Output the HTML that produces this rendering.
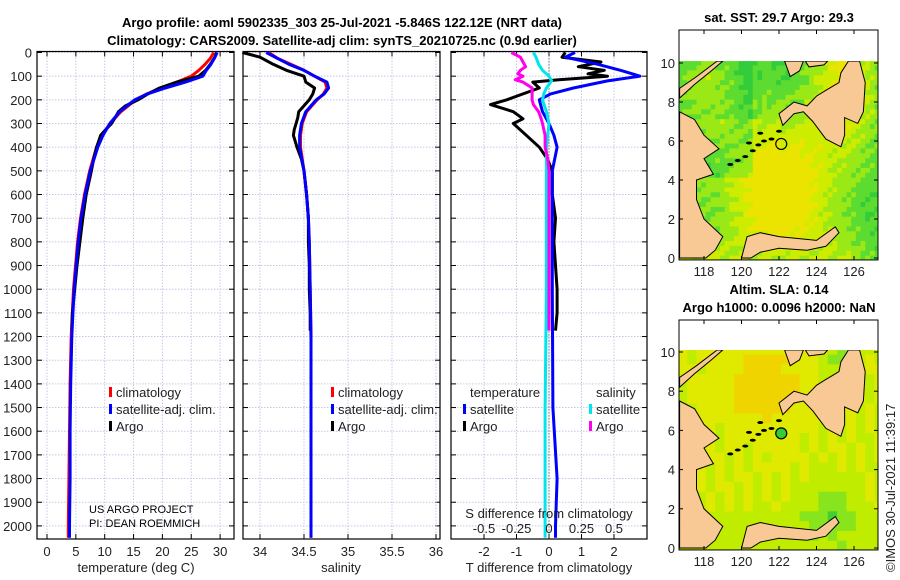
<!DOCTYPE html>
<html><head><meta charset="utf-8">
<style>
body{margin:0;background:#fff;}
svg{display:block;font-family:"Liberation Sans","DejaVu Sans",sans-serif;}
.tk{font-size:13px;fill:#222;}
.tt{font-size:13px;font-weight:bold;fill:#000;}
</style></head>
<body>
<svg id="fig" width="900" height="580" viewBox="0 0 900 580">
<text class="tt" x="342" y="27" text-anchor="middle">Argo profile: aoml 5902335_303 25-Jul-2021 -5.846S 122.12E (NRT data)</text>
<text class="tt" x="342" y="45" text-anchor="middle">Climatology: CARS2009. Satellite-adj clim: synTS_20210725.nc (0.9d earlier)</text>
<g id="g1"></g>
<g id="g2"></g>
<g id="g3"></g>
<g id="m1"></g>
<g id="m2"></g>
<text class="tt" x="779" y="22" text-anchor="middle">sat. SST: 29.7 Argo: 29.3</text>
<text class="tt" x="779" y="294" text-anchor="middle">Altim. SLA: 0.14</text>
<text class="tt" x="779" y="312" text-anchor="middle">Argo h1000: 0.0096 h2000: NaN</text>
<text class="tk" x="0" y="0" transform="translate(895,572) rotate(-90)">©IMOS 30-Jul-2021 11:39:17</text>
</svg>
<script>
const NS="http://www.w3.org/2000/svg";
// ---- data ----
const depthTicks=[0,100,200,300,400,500,600,700,800,900,1000,1100,1200,1300,1400,1500,1600,1700,1800,1900,2000];
const tTicks=[0,5,10,15,20,25,30];
const sTicks=[34,34.5,35,35.5,36];
const dTTicks=[-2,-1,0,1,2];
const dSTicks=[-0.5,-0.25,0,0.25,0.5];
const dSLabels=["-0.5","-0.25","0","0.25","0.5"];
const depthArgo=[0,20,50,75,100,125,150,175,200,225,250,275,300,325,350,400,450,500,600,700,800,900,1000,1100,1175];
const tempArgo=[29.4,29.1,28.3,27.5,26.3,22.5,19.5,17.5,15.8,13.6,12.4,11.8,11.2,10.2,9.3,8.6,8.1,7.7,6.8,6.2,5.7,5.2,4.8,4.4,4.3];
const salArgo=[33.8,34.0,34.15,34.3,34.5,34.52,34.62,34.6,34.56,34.5,34.44,34.43,34.41,34.39,34.38,34.42,34.47,34.5,34.53,34.55,34.55,34.56,34.56,34.57,34.57];
const depthClim=[0,25,50,75,100,125,150,175,200,250,300,350,400,500,600,700,800,1000,1200,1400,1600,1800,2000,2050];
const tempClim=[28.9,28.3,27.4,26.3,25.0,22.5,19.8,17.3,15.4,12.8,10.9,9.6,8.6,7.4,6.5,5.8,5.3,4.6,4.2,4.0,3.9,3.8,3.7,3.7];
const salClim=[34.1,34.2,34.35,34.5,34.62,34.74,34.76,34.72,34.65,34.53,34.48,34.46,34.46,34.5,34.53,34.55,34.56,34.57,34.58,34.58,34.58,34.58,34.58,34.58];
const tempSat=[29.5,29.0,28.4,27.6,27.0,24.0,20.5,17.4,15.2,12.6,10.9,9.7,8.8,7.5,6.6,5.9,5.4,4.7,4.3,4.1,4.0,4.0,3.9,3.9];
const salSat=[34.07,34.2,34.33,34.5,34.62,34.76,34.78,34.73,34.64,34.52,34.47,34.45,34.45,34.5,34.53,34.55,34.56,34.57,34.58,34.58,34.58,34.58,34.58,34.58];
const depthDiff=[0,20,40,60,75,90,100,115,125,150,175,200,220,250,280,300,350,400,450,500,600,700,800,900,1000,1100,1175];
const dTArgo=[0.5,0.4,1.6,0.9,1.7,1.2,1.8,0.3,-0.5,-0.3,-0.8,-1.3,-1.8,-1.1,-0.8,-1.1,-0.7,-0.3,-0.05,0.1,0.1,0.2,0.15,0.2,0.25,0.25,0.2];
const dSArgo=[-0.29,-0.22,-0.2,-0.18,-0.22,-0.24,-0.2,-0.26,-0.2,-0.13,-0.13,-0.13,-0.12,-0.08,-0.06,-0.05,-0.03,-0.03,-0.01,0,0,0,0,0,0,0,0];
const depthDiffSat=[0,20,50,75,100,120,150,175,200,250,300,350,400,500,600,1000,1500,1800,2000,2050];
const dTSat=[0.8,0.5,1.5,2.2,2.8,1.8,0.75,0.05,-0.3,-0.2,0,0.15,0.25,0.1,0.1,0.1,0.12,0.25,0.2,0.2];
const dSSat=[-0.12,-0.1,-0.08,-0.05,0,0.02,-0.02,-0.04,-0.05,-0.02,0,-0.01,-0.02,-0.02,-0.02,-0.02,-0.03,-0.03,-0.03,-0.03];

// ---- axes ----
const Y0=52.5,PPM=0.2367,YB=539;
const yD=d=>Y0+d*PPM;
const xT=v=>47+v*5.77;
const xS=v=>304+(v-34.5)*88;
const xDT=v=>549+v*32.5;
const xDS=v=>549+v*130;

function el(tag,attrs,parent){const e=document.createElementNS(NS,tag);for(const k in attrs)e.setAttribute(k,attrs[k]);parent.appendChild(e);return e;}
function txt(s,attrs,parent){const e=el('text',attrs,parent);e.textContent=s;return e;}

function panel(g,x0,x1,ticks,xf,labels){
  depthTicks.forEach(d=>{const y=yD(d);
    const l=el('line',{x1:x0,x2:x1,y1:y,y2:y,stroke:'#c3c8e6','stroke-dasharray':'1.5,1.5','stroke-width':1},g);
    
    
    el('line',{x1:x0,x2:x0+5,y1:y,y2:y,stroke:'#000'},g);
    el('line',{x1:x1-5,x2:x1,y1:y,y2:y,stroke:'#000'},g);
  });
  ticks.forEach((t,i)=>{const x=xf(t);
    const l=el('line',{x1:x,x2:x,y1:Y0-1,y2:YB,stroke:'#c3c8e6','stroke-dasharray':'1.5,1.5'},g);
    
    
    el('line',{x1:x,x2:x,y1:YB,y2:YB-5,stroke:'#000'},g);
    el('line',{x1:x,x2:x,y1:Y0-1,y2:Y0+4,stroke:'#000'},g);
    const tx=txt(labels?labels[i]:String(t),{x:x,y:556,'text-anchor':'middle',class:'tk'},g);
    
    
  });
  const r=el('rect',{x:x0,y:Y0-1,width:x1-x0,height:YB-Y0+1,fill:'none',stroke:'#000','stroke-width':1.2},g);
  
  
}
function line(g,vals,depths,xf,color,name,w){
  const p=vals.map((v,i)=>(i?'L':'M')+xf(v).toFixed(1)+','+yD(depths[i]).toFixed(1)).join(' ');
  const e=el('path',{d:p,fill:'none',stroke:color,'stroke-width':w||3,'stroke-linejoin':'round'},g);
  
  
}
function legend(g,x,y,color,label){
  const m=el('rect',{x:x,y:y-9,width:3,height:10,fill:color},g);
  
  
  const t=txt(label,{x:x+7,y:y+1,class:'tk'},g);
  
  
}
const g1=document.getElementById('g1'),g2=document.getElementById('g2'),g3=document.getElementById('g3');
panel(g1,37,234,tTicks,xT);
depthTicks.forEach(d=>{const t=txt(String(d),{x:32,y:yD(d)+5,'text-anchor':'end',class:'tk'},g1);
  
  });
line(g1,tempClim,depthClim,xT,'#ff0000','temp-climatology-line');
line(g1,tempArgo,depthArgo,xT,'#000000','temp-argo-line');
line(g1,tempSat,depthClim,xT,'#0000ff','temp-satellite-line');
legend(g1,109,396,'#ff0000','climatology');
legend(g1,109,413,'#0000ff','satellite-adj. clim.');
legend(g1,109,430,'#000000','Argo');
txt('US ARGO PROJECT',{x:89,y:513,style:'font-size:11px'},g1);
txt('PI: DEAN ROEMMICH',{x:89,y:527,style:'font-size:11px'},g1);
txt('temperature (deg C)',{x:136,y:572,'text-anchor':'middle',class:'tk'},g1);

panel(g2,243,440,sTicks,xS);
line(g2,salClim,depthClim,xS,'#ff0000','sal-climatology-line');
line(g2,salArgo,depthArgo,xS,'#000000','sal-argo-line');
line(g2,salSat,depthClim,xS,'#0000ff','sal-satellite-line');
legend(g2,331,396,'#ff0000','climatology');
legend(g2,331,413,'#0000ff','satellite-adj. clim.');
legend(g2,331,430,'#000000','Argo');
txt('salinity',{x:341,y:572,'text-anchor':'middle',class:'tk'},g2);

panel(g3,451,647,dTTicks,xDT);
el('line',{x1:549,x2:549,y1:Y0,y2:YB,stroke:'#333','stroke-dasharray':'1,2'},g3);
line(g3,dTArgo,depthDiff,xDT,'#000000','tdiff-argo-line');
line(g3,dTSat,depthDiffSat,xDT,'#0000ff','tdiff-satellite-line');
line(g3,dSSat,depthDiffSat,xDS,'#00e5ee','sdiff-satellite-line');
line(g3,dSArgo,depthDiff,xDS,'#ff00ee','sdiff-argo-line');
txt('temperature',{x:470,y:397,class:'tk'},g3);
txt('salinity',{x:596,y:397,class:'tk'},g3);
legend(g3,463,413,'#0000ff','satellite');
legend(g3,463,430,'#000000','Argo');
legend(g3,589,413,'#00e5ee','satellite');
legend(g3,589,430,'#ff00ee','Argo');
txt('S difference from climatology',{x:549,y:518,'text-anchor':'middle',class:'tk'},g3);
dSTicks.forEach((s,i)=>{const t=txt(dSLabels[i],{x:xDS(s),y:533,'text-anchor':'middle',class:'tk'},g3);
  
  });
txt('T difference from climatology',{x:549,y:572,'text-anchor':'middle',class:'tk'},g3);

// ---- maps ----
const land1=[[116.7,7.5],[117.5,7.1],[118,6.3],[118.8,5.6],[118,5.1],[118.5,4.3],[117.6,4],[117.6,3],[118,2],[119,1.1],[118.6,0.4],[118.1,0],[116.7,0]];
const land2=[[116.7,8.2],[117.5,8.9],[118.4,9.6],[119,10.1],[118.7,10.1],[117.6,9.3],[116.7,8.7]];
const land3=[[122.2,6.8],[122,7.4],[122.8,8],[123.5,7.8],[124,8.3],[124.5,8.6],[125.2,9],[125.3,9.5],[125.7,10.1],[126.3,10.1],[126.6,9],[126.5,7.5],[126.2,6.9],[125.5,7.2],[125.5,6.3],[125.3,5.7],[124.5,6.1],[123.8,7],[123.3,7.5],[122.8,7.4]];
const land4=[[122.3,10.1],[122.6,9.3],[123.1,9.6],[123.3,10.1]];
const land5=[[123.4,10.1],[123.6,9.8],[124.4,9.9],[124.6,10.1]];
const land6=[[120.0,0],[120.3,1.1],[121,1.3],[122,1.1],[123,1],[124,0.9],[125,1.6],[125.2,1.3],[124.5,0.6],[123.5,0.4],[122,0.5],[121,0.3],[120.5,0]];
const islands=[[119.4,4.8],[119.8,5.0],[120.2,5.2],[120.6,5.5],[120.9,5.8],[121.2,6.0],[121.6,6.1],[122.0,6.5],[120.4,5.9],[121.0,6.4]];
function drawMap(id,top,lat10,lat0,smooth){
  const g=document.getElementById(id);
  const L=679,R=878;
  const X=lon=>704+(lon-118)*18.75, Y=lat=>lat0+(lat10-lat0)*lat/10;
  const bottom=Y(-0.1);
  const step=smooth?0.5:0.25;
  for(let lon=116.6;lon<127.3;lon+=step){for(let lat=-0.1;lat<10.1;lat+=step){
    let c;
    if(!smooth){
      let v=0.62+0.25*Math.sin((lon-120)*0.8)*Math.cos((lat-3)*0.5)-0.2*Math.abs(lat-4)/6-0.15*Math.max(0,lon-125.5)+0.15*((lon*7.3+lat*13.1)%1-0.5);
      if(lon<120.5&&lat>4)v-=0.2; if(lat>7&&lon<121)v-=0.1;
      c=v>0.62?'#eae400':v>0.47?'#cdec00':v>0.32?'#9ae816':v>0.18?'#5cdc30':'#33cc3a';
    }else{
      let v=0.55+0.25*Math.exp(-((lon-121)**2+(lat-8)**2)/4)-0.2*Math.exp(-((lon-125)**2+(lat-9.5)**2)/1)-0.2*Math.exp(-((lon-124.5)**2+(lat-2)**2)/1.5)-0.12*(lat<1.5?1:0)+0.05*((lon*5.1+lat*9.7)%1-0.5);
      c=v>0.68?'#f0d400':v>0.55?'#e0ea00':v>0.4?'#c0ec00':v>0.27?'#88e41c':'#40d030';
    }
    el('rect',{x:X(lon),y:Y(lat+step),width:step*18.75+0.6,height:(lat0-lat10)/10*step+0.6,fill:c},g);
  }}
  [land1,land2,land3,land4,land5,land6].forEach(poly=>{
    const p=el('polygon',{points:poly.map(q=>X(q[0]).toFixed(1)+','+Y(q[1]).toFixed(1)).join(' '),fill:'#f9c995',stroke:'#000','stroke-width':1},g);
    
    
  });
  islands.forEach(q=>el('ellipse',{cx:X(q[0]),cy:Y(q[1]),rx:3,ry:1.5,fill:'#000'},g));
  el('rect',{x:L,y:top,width:R-L,height:Y(10.1)-top,fill:'#fff'},g);
  el('rect',{x:R,y:top,width:20,height:bottom-top+10,fill:'#fff'},g);
  el('rect',{x:L-20,y:bottom,width:R-L+40,height:20,fill:'#fff'},g);
  el('rect',{x:L-20,y:top,width:20,height:bottom-top,fill:'#fff'},g);
  const mk=el('circle',{cx:X(122.12),cy:Y(5.85),r:5.5,fill:smooth?'#33cc33':'none',stroke:'#000','stroke-width':1.2},g);
  
  
  const box=el('rect',{x:L,y:top,width:R-L,height:bottom-top,fill:'none',stroke:'#000','stroke-width':1},g);
  
  
  [118,120,122,124,126].forEach(lon=>{const x=X(lon);
    el('line',{x1:x,x2:x,y1:bottom,y2:bottom-4,stroke:'#000'},g);
    el('line',{x1:x,x2:x,y1:top,y2:top+4,stroke:'#000'},g);
    const t=txt(String(lon),{x:x,y:bottom+16,'text-anchor':'middle',class:'tk'},g);
    
    });
  [0,2,4,6,8,10].forEach(lat=>{const y=Y(lat);
    el('line',{x1:L,x2:L+4,y1:y,y2:y,stroke:'#000'},g);
    el('line',{x1:R,x2:R-4,y1:y,y2:y,stroke:'#000'},g);
    const t=txt(String(lat),{x:675,y:y+5,'text-anchor':'end',class:'tk'},g);
    
    });
}
drawMap('m1',30,63,258,false);
drawMap('m2',320,352,548,true);
</script>
</body></html>
